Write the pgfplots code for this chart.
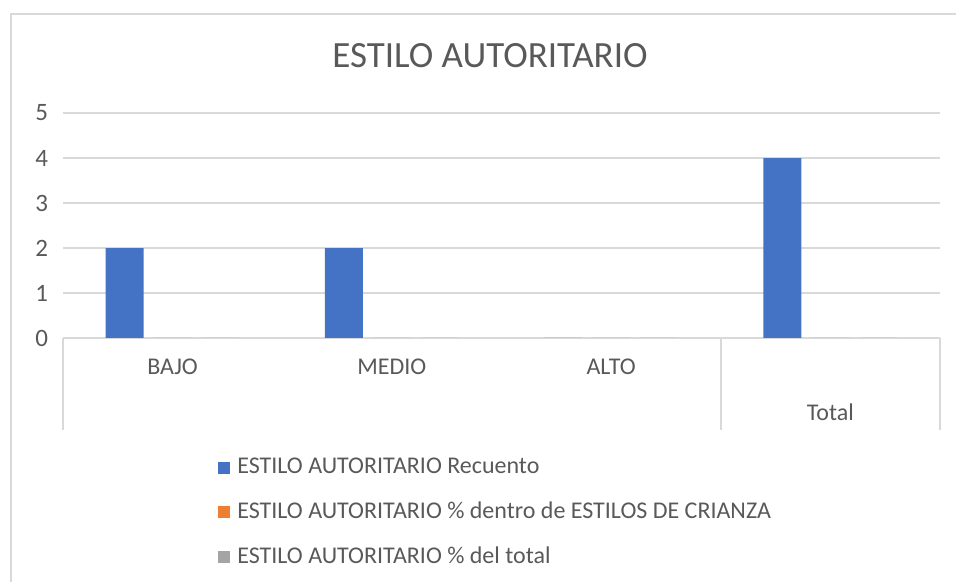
\documentclass[border=0pt]{standalone}
\usepackage{fontspec}
\setmainfont{Carlito}
\usepackage{pgfplots}
\pgfplotsset{compat=1.18}
\definecolor{serA}{HTML}{4472C4}
\definecolor{serB}{HTML}{ED7D31}
\definecolor{serC}{HTML}{A5A5A5}
\definecolor{txt}{HTML}{595959}
\definecolor{gridc}{HTML}{D9D9D9}
\begin{document}
\begin{tikzpicture}
% 1 px of the reference = 0.5pt
\useasboundingbox (-31.5pt,-122pt) rectangle (446.5pt,169pt);
\draw[gridc, line width=1pt] (-26pt,-125pt) -- (-26pt,162pt) -- (450pt,162pt);
\node[font=\fontsize{18.5}{22}\selectfont, text=txt] at (213.5pt,141pt) {ESTILO AUTORITARIO};
\begin{axis}[
  at={(0,0)}, anchor=south west,
  scale only axis, width=438.5pt, height=112.5pt,
  ybar=5pt, bar width=19pt,
  xmin=-0.5, xmax=3.5, ymin=0, ymax=5,
  enlargelimits=false,
  xtick={0,1,2,3}, xticklabels={BAJO,MEDIO,ALTO,{}},
  ytick={0,1,2,3,4,5},
  major tick length=0pt,
  axis line style={draw=none},
  ymajorgrids, grid style={gridc, line width=1pt},
  tick label style={font=\fontsize{12.5}{15}\selectfont, text=txt},
  xticklabel style={anchor=center, yshift=-14.5pt, font=\fontsize{12}{14}\selectfont},
  yticklabel style={xshift=-4pt},
  /pgf/number format/assume math mode=true,
  clip=false,
  legend cell align=left,
  legend image code/.code={\fill[#1] (0pt,-3pt) rectangle (6pt,3pt); \path (7.5pt,0pt);},
  legend style={at={(axis description cs:0.1767,-0.515)}, anchor=north west,
    draw=none, fill=none, inner sep=0pt, row sep=8.7pt,
    font=\fontsize{12}{14}\selectfont, text=txt},
]
\addplot[fill=serA, draw=none] coordinates {(0,2) (1,2) (2,0) (3,4)};
\addlegendentry{ESTILO AUTORITARIO Recuento}
\addplot[fill=serB, draw=none] coordinates {(0,0) (1,0) (2,0) (3,0)};
\addlegendentry{ESTILO AUTORITARIO \% dentro de ESTILOS DE CRIANZA}
\addplot[fill=serC, draw=none] coordinates {(0,0) (1,0) (2,0) (3,0)};
\addlegendentry{ESTILO AUTORITARIO \% del total}
\draw[gridc, line width=1pt] (axis cs:-0.5,0) -- ([yshift=-46pt]axis cs:-0.5,0);
\draw[gridc, line width=1pt] (axis cs:2.5,0) -- ([yshift=-46pt]axis cs:2.5,0);
\draw[gridc, line width=1pt] (axis cs:3.5,0) -- ([yshift=-46pt]axis cs:3.5,0);
\node[font=\fontsize{12}{14}\selectfont, text=txt] at ([yshift=-37pt]axis cs:3,0) {Total};
\end{axis}
\end{tikzpicture}
\end{document}
